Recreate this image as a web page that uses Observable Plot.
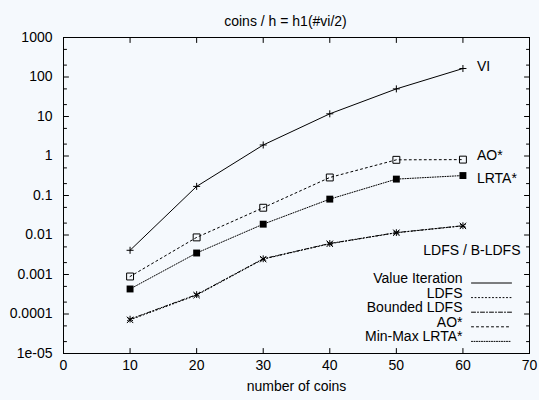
<!DOCTYPE html>
<html><head><meta charset="utf-8">
<script src="https://cdn.jsdelivr.net/npm/d3@7"></script>
<script src="https://cdn.jsdelivr.net/npm/@observablehq/plot@0.6"></script>
<style>
html,body{margin:0;padding:0;background:#f5f9fd;}
</style></head><body><div id="chart"></div>
<script>
const coins = [10, 20, 30, 40, 50, 60];
const valueIteration = [0.0041, 0.17, 1.9, 11.7, 50, 164];
const ldfs = [0.000071, 0.00030, 0.00245, 0.0060, 0.0114, 0.0170];
const boundedLdfs = [0.000074, 0.00031, 0.00250, 0.0061, 0.0115, 0.0172];
const aoStar = [0.00089, 0.0087, 0.049, 0.286, 0.80, 0.81];
const minMaxLrta = [0.00043, 0.0035, 0.0188, 0.081, 0.26, 0.32];

const seriesNames = ["Value Iteration", "LDFS", "Bounded LDFS", "AO*", "Min-Max LRTA*"];
const seriesValues = [valueIteration, ldfs, boundedLdfs, aoStar, minMaxLrta];
const curveLabels = ["VI", "LDFS / B-LDFS", "AO*", "LRTA*"];

const xTicks = [0, 10, 20, 30, 40, 50, 60, 70];
const yTicks = [1e-5, 1e-4, 1e-3, 1e-2, 1e-1, 1, 10, 100, 1000];
const yTickLabels = ["1e-05", "0.0001", "0.001", "0.01", "0.1", "1", "10", "100", "1000"];
const yMinorTicks = yTicks.slice(0, -1).flatMap(d => [2 * d, 5 * d]);

const titleText = "coins / h = h1(#vi/2)";
const xLabelText = "number of coins";

// styles
const dashes = [null, "1,2.5", "4,2,1,2", "2,3", "1,1.5"];
const symbols = [
  {symbol: "plus", r: 2.4, fill: "none", stroke: "#000"},
  {symbol: "times", r: 3, fill: "none", stroke: "#000"},
  {symbol: "asterisk", r: 3.2, fill: "none", stroke: "#000"},
  {symbol: "square2", r: 4.4, fill: "none", stroke: "#000"},
  {symbol: "square", r: 3.9, fill: "#000", stroke: "none"}
];

const tables = seriesValues.map((vals, s) => coins.map((c, i) => ({coins: c, value: vals[i], series: seriesNames[s]})));

const lineShape = {draw(context, l) { context.moveTo(0, 0); context.lineTo(0, -l); }};
const tickOpts = {anchor: "start", shape: lineShape, stroke: "#000", strokeWidth: 1};

const marks = [];
// series lines and points
tables.forEach((t, s) => {
  marks.push(Plot.line(t, {x: "coins", y: "value", stroke: "#000", strokeWidth: 1, strokeDasharray: dashes[s] || undefined}));
});
tables.forEach((t, s) => {
  marks.push(Plot.dot(t, {x: "coins", y: "value", strokeWidth: 1, ...symbols[s]}));
});
// ticks (inward, mirrored)
marks.push(Plot.vector(yTicks, {y: d => d, frameAnchor: "left", rotate: 90, length: 5, ...tickOpts}));
marks.push(Plot.vector(yTicks, {y: d => d, frameAnchor: "right", rotate: -90, length: 5, ...tickOpts}));
marks.push(Plot.vector(yMinorTicks, {y: d => d, frameAnchor: "left", rotate: 90, length: 3, ...tickOpts}));
marks.push(Plot.vector(yMinorTicks, {y: d => d, frameAnchor: "right", rotate: -90, length: 3, ...tickOpts}));
marks.push(Plot.vector(xTicks, {x: d => d, frameAnchor: "bottom", rotate: 0, length: 5, ...tickOpts}));
marks.push(Plot.vector(xTicks, {x: d => d, frameAnchor: "top", rotate: 180, length: 5, ...tickOpts}));
marks.push(Plot.frame({stroke: "#000", strokeWidth: 1}));
// axes
marks.push(Plot.axisY(yTicks, {tickSize: 0, tickPadding: 11, label: null, tickFormat: d => yTickLabels[yTicks.indexOf(d)], fill: "#000"}));
marks.push(Plot.axisX(xTicks, {tickSize: 0, tickPadding: 7, label: null, fill: "#000"}));
// curve labels
const last = coins.length - 1;
marks.push(Plot.text([curveLabels[0]], {x: () => coins[last], y: () => valueIteration[last], dx: 14, dy: -2, textAnchor: "start", fill: "#000"}));
marks.push(Plot.text([curveLabels[2]], {x: () => coins[last], y: () => aoStar[last], dx: 14, dy: -4, textAnchor: "start", fill: "#000"}));
marks.push(Plot.text([curveLabels[3]], {x: () => coins[last], y: () => minMaxLrta[last], dx: 14, dy: 3, textAnchor: "start", fill: "#000"}));
marks.push(Plot.text([curveLabels[1]], {x: () => xTicks[xTicks.length - 1], y: () => ldfs[last], dx: -9, dy: 25, textAnchor: "end", fill: "#000"}));
// legend
seriesNames.forEach((name, i) => {
  const dy = -70.5 + 14.6 * i;
  marks.push(Plot.text([name], {frameAnchor: "bottom-right", textAnchor: "end", dx: -67, dy, fill: "#000"}));
  marks.push(Plot.vector([name], {frameAnchor: "bottom-right", rotate: 90, length: 40, dx: -58, dy, ...tickOpts, strokeDasharray: dashes[i] || undefined}));
});
// title and x label
marks.push(Plot.text([titleText], {frameAnchor: "top", dy: -21, dx: -11, fill: "#000"}));
marks.push(Plot.text([xLabelText], {frameAnchor: "bottom", dy: 37, fill: "#000"}));

const chart = Plot.plot({
  width: 539,
  height: 400,
  marginLeft: 63,
  marginRight: 10,
  marginTop: 37,
  marginBottom: 47,
  style: {background: "#f5f9fd", fontFamily: "'Liberation Sans', Arial, sans-serif", fontSize: "14px", color: "#000"},
  x: {domain: [0, 70], axis: null},
  y: {type: "log", domain: [1e-5, 1000], axis: null},
  marks
});
document.getElementById("chart").appendChild(chart);
</script>
</body></html>
